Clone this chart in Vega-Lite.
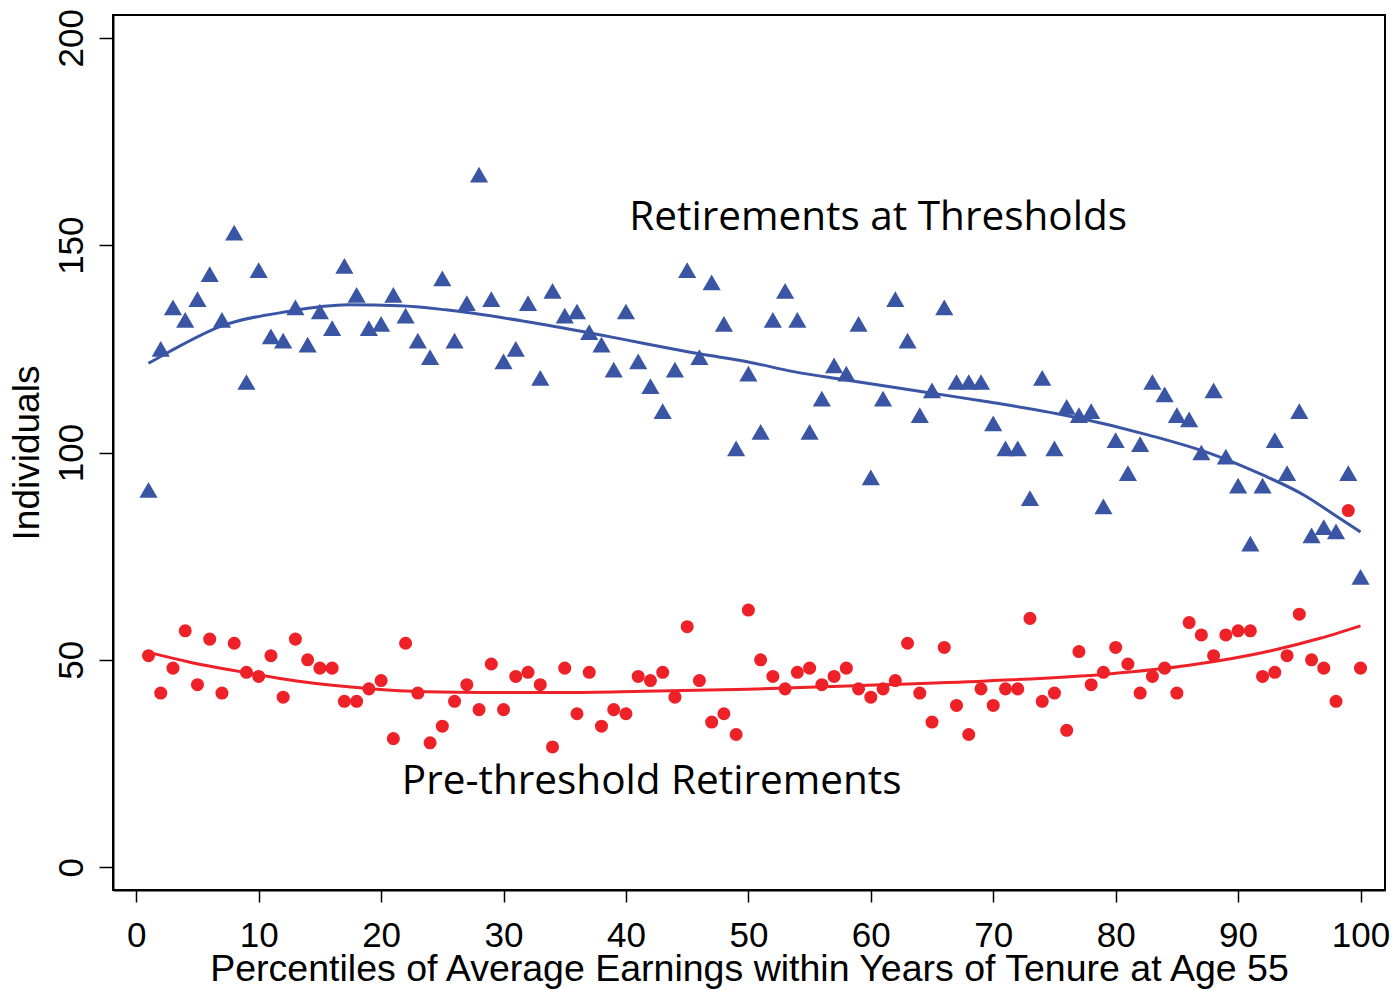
{
  "$schema": "https://vega.github.io/schema/vega-lite/v6.json",
  "width": 1272,
  "height": 875,
  "autosize": {"type": "none"},
  "padding": {"left": 113, "top": 15, "right": 10, "bottom": 100},
  "background": "white",
  "config": {
    "view": {"stroke": "black", "strokeWidth": 2},
    "font": "Liberation Sans"
  },
  "datasets": {
    "pts": [
      {"p":1,"thr":91,"pre":51},{"p":2,"thr":125,"pre":42},{"p":3,"thr":135,"pre":48},{"p":4,"thr":132,"pre":57},{"p":5,"thr":137,"pre":44},
      {"p":6,"thr":143,"pre":55},{"p":7,"thr":132,"pre":42},{"p":8,"thr":153,"pre":54},{"p":9,"thr":117,"pre":47},{"p":10,"thr":144,"pre":46},
      {"p":11,"thr":128,"pre":51},{"p":12,"thr":127,"pre":41},{"p":13,"thr":135,"pre":55},{"p":14,"thr":126,"pre":50},{"p":15,"thr":134,"pre":48},
      {"p":16,"thr":130,"pre":48},{"p":17,"thr":145,"pre":40},{"p":18,"thr":138,"pre":40},{"p":19,"thr":130,"pre":43},{"p":20,"thr":131,"pre":45},
      {"p":21,"thr":138,"pre":31},{"p":22,"thr":133,"pre":54},{"p":23,"thr":127,"pre":42},{"p":24,"thr":123,"pre":30},{"p":25,"thr":142,"pre":34},
      {"p":26,"thr":127,"pre":40},{"p":27,"thr":136,"pre":44},{"p":28,"thr":167,"pre":38},{"p":29,"thr":137,"pre":49},{"p":30,"thr":122,"pre":38},
      {"p":31,"thr":125,"pre":46},{"p":32,"thr":136,"pre":47},{"p":33,"thr":118,"pre":44},{"p":34,"thr":139,"pre":29},{"p":35,"thr":133,"pre":48},
      {"p":36,"thr":134,"pre":37},{"p":37,"thr":129,"pre":47},{"p":38,"thr":126,"pre":34},{"p":39,"thr":120,"pre":38},{"p":40,"thr":134,"pre":37},
      {"p":41,"thr":122,"pre":46},{"p":42,"thr":116,"pre":45},{"p":43,"thr":110,"pre":47},{"p":44,"thr":120,"pre":41},{"p":45,"thr":144,"pre":58},
      {"p":46,"thr":123,"pre":45},{"p":47,"thr":141,"pre":35},{"p":48,"thr":131,"pre":37},{"p":49,"thr":101,"pre":32},{"p":50,"thr":119,"pre":62},
      {"p":51,"thr":105,"pre":50},{"p":52,"thr":132,"pre":46},{"p":53,"thr":139,"pre":43},{"p":54,"thr":132,"pre":47},{"p":55,"thr":105,"pre":48},
      {"p":56,"thr":113,"pre":44},{"p":57,"thr":121,"pre":46},{"p":58,"thr":119,"pre":48},{"p":59,"thr":131,"pre":43},{"p":60,"thr":94,"pre":41},
      {"p":61,"thr":113,"pre":43},{"p":62,"thr":137,"pre":45},{"p":63,"thr":127,"pre":54},{"p":64,"thr":109,"pre":42},{"p":65,"thr":115,"pre":35},
      {"p":66,"thr":135,"pre":53},{"p":67,"thr":117,"pre":39},{"p":68,"thr":117,"pre":32},{"p":69,"thr":117,"pre":43},{"p":70,"thr":107,"pre":39},
      {"p":71,"thr":101,"pre":43},{"p":72,"thr":101,"pre":43},{"p":73,"thr":89,"pre":60},{"p":74,"thr":118,"pre":40},{"p":75,"thr":101,"pre":42},
      {"p":76,"thr":111,"pre":33},{"p":77,"thr":109,"pre":52},{"p":78,"thr":110,"pre":44},{"p":79,"thr":87,"pre":47},{"p":80,"thr":103,"pre":53},
      {"p":81,"thr":95,"pre":49},{"p":82,"thr":102,"pre":42},{"p":83,"thr":117,"pre":46},{"p":84,"thr":114,"pre":48},{"p":85,"thr":109,"pre":42},
      {"p":86,"thr":108,"pre":59},{"p":87,"thr":100,"pre":56},{"p":88,"thr":115,"pre":51},{"p":89,"thr":99,"pre":56},{"p":90,"thr":92,"pre":57},
      {"p":91,"thr":78,"pre":57},{"p":92,"thr":92,"pre":46},{"p":93,"thr":103,"pre":47},{"p":94,"thr":95,"pre":51},{"p":95,"thr":110,"pre":61},
      {"p":96,"thr":80,"pre":50},{"p":97,"thr":82,"pre":48},{"p":98,"thr":81,"pre":40},{"p":99,"thr":95,"pre":86},{"p":100,"thr":70,"pre":48}
    ],
    "fitthr": [
      {"p":1,"v":121.5},{"p":2.7,"v":124.3},{"p":6.9,"v":130.4},{"p":12.4,"v":134.0},{"p":17.3,"v":135.6},
      {"p":21.5,"v":135.4},{"p":25.3,"v":134.4},{"p":31.8,"v":131.6},{"p":37.3,"v":128.7},{"p":41.5,"v":126.3},
      {"p":46,"v":123.8},{"p":49.9,"v":121.9},{"p":53.7,"v":119.5},{"p":57.7,"v":117.6},{"p":65,"v":114.3},
      {"p":69.4,"v":112.3},{"p":76.7,"v":108.5},{"p":82.7,"v":104.2},{"p":87.7,"v":99.8},{"p":92,"v":94.6},
      {"p":95.4,"v":89.7},{"p":97.7,"v":85.3},{"p":100,"v":80.8}
    ],
    "fitpre": [
      {"p":1,"v":51.8},{"p":4.3,"v":49.5},{"p":8.6,"v":47.1},{"p":13.1,"v":44.9},{"p":18.9,"v":43.1},
      {"p":23.7,"v":42.3},{"p":28.6,"v":42.1},{"p":35,"v":42.1},{"p":41.5,"v":42.4},{"p":50,"v":42.9},
      {"p":59.3,"v":43.8},{"p":69.4,"v":44.9},{"p":79.4,"v":46.6},{"p":86,"v":48.7},{"p":92.7,"v":52.2},
      {"p":96.7,"v":55.2},{"p":100,"v":58.2}
    ],
    "labels": [
      {"p": 60.6, "v": 156.5, "t": "Retirements at Thresholds"},
      {"p": 42.1, "v": 20.6, "t": "Pre-threshold Retirements"}
    ]
  },
  "encoding": {
    "x": {
      "field": "p", "type": "quantitative",
      "scale": {"domain": [-1.9, 102], "nice": false, "zero": false},
      "axis": {
        "values": [0,10,20,30,40,50,60,70,80,90,100],
        "title": "Percentiles of Average Earnings within Years of Tenure at Age 55",
        "titleFontSize": 37.5, "titleFontWeight": "normal", "titleColor": "black", "titlePadding": -3,
        "labelFontSize": 35, "labelColor": "black", "labelPadding": 16,
        "tickSize": 12, "tickColor": "black", "tickWidth": 1.5,
        "domainColor": "black", "domainWidth": 2, "grid": false
      }
    }
  },
  "layer": [
    {
      "data": {"name": "pts"},
      "mark": {"type": "point", "shape": "triangle-up", "filled": true, "size": 330, "color": "#3A55A4", "opacity": 1},
      "encoding": {
        "y": {
          "field": "thr", "type": "quantitative",
          "scale": {"domain": [-5.5, 205.5], "nice": false, "zero": false},
          "axis": {
            "values": [0, 50, 100, 150, 200],
            "title": "Individuals",
            "titleFontSize": 37, "titleFontWeight": "normal", "titleColor": "black", "titlePadding": 8,
            "labelFontSize": 35, "labelColor": "black", "labelAngle": -90, "labelAlign": "center", "labelBaseline": "bottom", "labelPadding": 10,
            "tickSize": 14, "tickColor": "black", "tickWidth": 1.5,
            "domainColor": "black", "domainWidth": 2, "grid": false
          }
        }
      }
    },
    {
      "data": {"name": "pts"},
      "mark": {"type": "circle", "size": 170, "color": "#EE2128", "opacity": 1},
      "encoding": {"y": {"field": "pre", "type": "quantitative"}}
    },
    {
      "data": {"name": "fitthr"},
      "mark": {"type": "line", "color": "#3A55A4", "strokeWidth": 3, "interpolate": "monotone"},
      "encoding": {"y": {"field": "v", "type": "quantitative"}}
    },
    {
      "data": {"name": "fitpre"},
      "mark": {"type": "line", "color": "#EE2128", "strokeWidth": 3, "interpolate": "monotone"},
      "encoding": {"y": {"field": "v", "type": "quantitative"}}
    },
    {
      "data": {"name": "labels"},
      "mark": {"type": "text", "font": "Open Sans", "fontSize": 40.5, "color": "black", "align": "center", "baseline": "middle"},
      "encoding": {"y": {"field": "v", "type": "quantitative"}, "text": {"field": "t"}}
    }
  ]
}
